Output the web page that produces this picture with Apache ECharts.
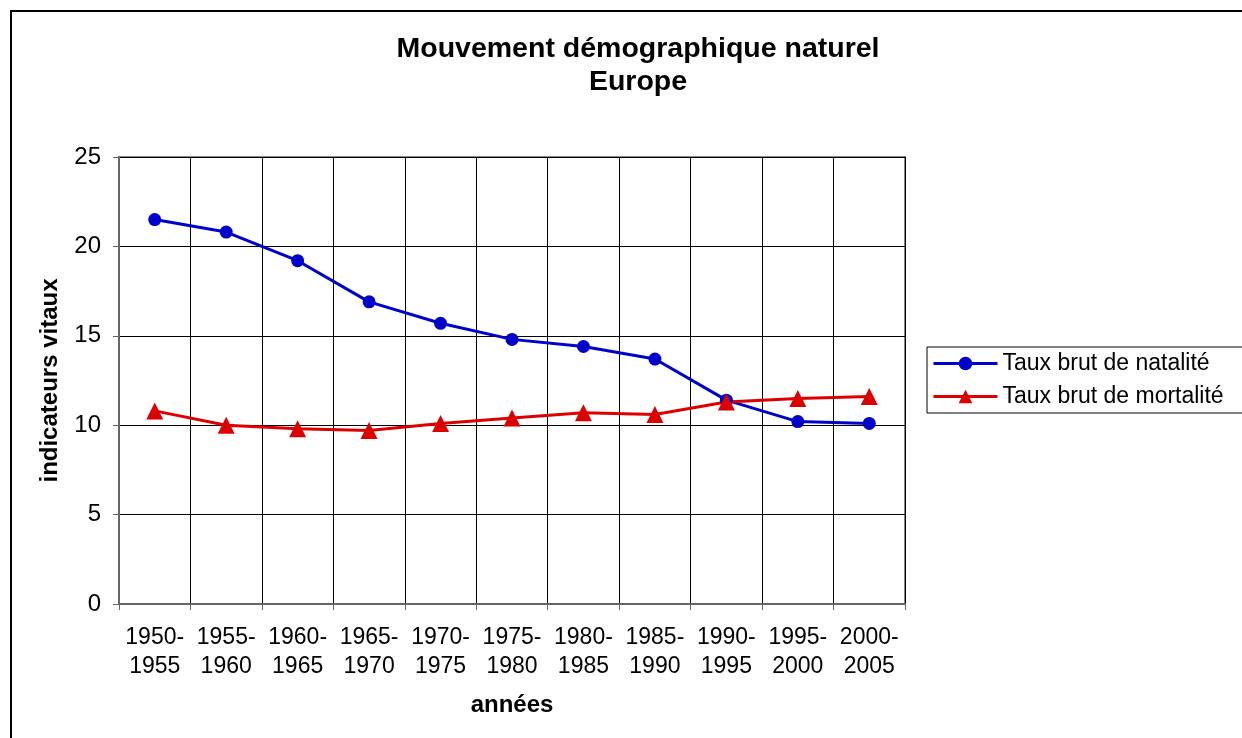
<!DOCTYPE html>
<html>
<head>
<meta charset="utf-8">
<script src="https://cdn.jsdelivr.net/npm/echarts@6/dist/echarts.min.js"></script>
<style>
  html, body { margin: 0; padding: 0; background: #fff; }
  #chart { width: 1242px; height: 738px; }
</style>
</head>
<body>
<div id="chart"></div>
<script>
// périodes (axe x)
var periodes = ['1950-\n1955', '1955-\n1960', '1960-\n1965', '1965-\n1970', '1970-\n1975', '1975-\n1980',
                '1980-\n1985', '1985-\n1990', '1990-\n1995', '1995-\n2000', '2000-\n2005'];
// taux pour 1000 habitants
var natalite = [21.5, 20.8, 19.2, 16.9, 15.7, 14.8, 14.4, 13.7, 11.4, 10.2, 10.1];
var mortalite = [10.8, 10.0, 9.8, 9.7, 10.1, 10.4, 10.7, 10.6, 11.3, 11.5, 11.6];
var yTicks = [0, 5, 10, 15, 20, 25];

var chart = echarts.init(document.getElementById('chart'));
var font = 'Liberation Sans, Arial, sans-serif';

var option = {
    animation: false,
    backgroundColor: '#fff',
    textStyle: { fontFamily: font },
    title: {
        text: 'Mouvement démographique naturel\nEurope',
        left: 633,
        top: 28,
        textAlign: 'center',
        textStyle: { fontSize: 28.5, fontWeight: 'bold', color: '#000', lineHeight: 33, fontFamily: font }
    },
    graphic: [{
        type: 'rect',
        shape: { x: 11, y: 11, width: 1250, height: 760 },
        style: { fill: 'none', stroke: '#000', lineWidth: 2 },
        z: 100
    }],
    legend: {
        left: 927,
        top: 347,
        orient: 'vertical',
        itemWidth: 64,
        itemHeight: 17,
        itemGap: 10,
        padding: [5, 20, 5, 5],
        borderColor: '#000',
        borderWidth: 1,
        lineStyle: { width: 3 },
        textStyle: { fontSize: 23, color: '#000', fontFamily: font },
        data: ['Taux brut de natalité', 'Taux brut de mortalité']
    },
    grid: {
        left: 119, right: 337, top: 157, bottom: 134,
        show: true,
        borderColor: '#888',
        borderWidth: 2
    },
    xAxis: {
        type: 'category',
        data: periodes,
        name: 'années',
        nameLocation: 'middle',
        nameGap: 89,
        nameTextStyle: { fontSize: 24, fontWeight: 'bold', color: '#000' },
        axisLine: { lineStyle: { color: '#666', width: 2 } },
        axisTick: { show: true, interval: 0, length: 6, lineStyle: { color: '#666' } },
        axisLabel: { interval: 0, fontSize: 23, color: '#000', lineHeight: 29, margin: 19 },
        splitLine: { show: true, interval: 0, lineStyle: { color: '#000', width: 1 } }
    },
    yAxis: {
        type: 'value',
        min: yTicks[0],
        max: yTicks[yTicks.length - 1],
        interval: 5,
        name: 'indicateurs vitaux',
        nameLocation: 'middle',
        nameGap: 57,
        nameTextStyle: { fontSize: 24, fontWeight: 'bold', color: '#000' },
        axisLine: { show: true, lineStyle: { color: '#666', width: 2 } },
        axisTick: { show: true, length: 6, lineStyle: { color: '#666' } },
        axisLabel: { fontSize: 24, color: '#000', margin: 18 },
        splitLine: { show: true, lineStyle: { color: '#000', width: 1 } }
    },
    series: [{
        name: 'Taux brut de natalité',
        type: 'line',
        data: natalite,
        color: '#0000cc',
        symbol: 'circle',
        symbolSize: 13,
        lineStyle: { width: 3, color: '#0000cc' },
        itemStyle: { color: '#0000cc' }
    }, {
        name: 'Taux brut de mortalité',
        type: 'line',
        data: mortalite,
        color: '#dd0000',
        symbol: 'triangle',
        symbolSize: 17,
        lineStyle: { width: 3, color: '#dd0000' },
        itemStyle: { color: '#dd0000' }
    }]
};
chart.setOption(option);
</script>
</body>
</html>
